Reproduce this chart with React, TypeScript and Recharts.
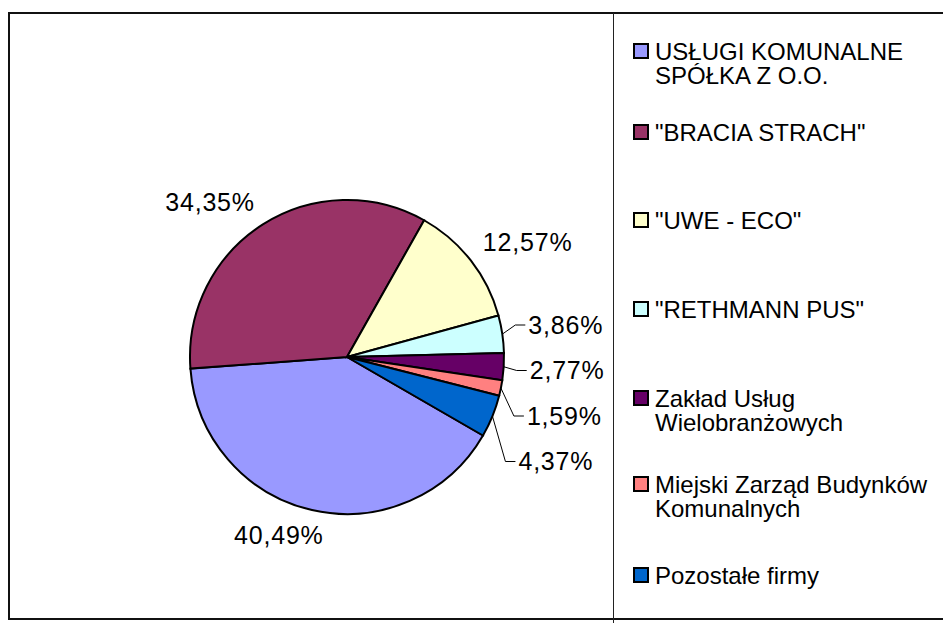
import React from 'react';
import { PieChart, Pie, Cell } from 'recharts';

const names = [
  'USŁUGI KOMUNALNE SPÓŁKA Z O.O.',
  '"BRACIA STRACH"',
  '"UWE - ECO"',
  '"RETHMANN PUS"',
  'Zakład Usług Wielobranżowych',
  'Miejski Zarząd Budynków Komunalnych',
  'Pozostałe firmy',
];
const shares = [40.49, 34.35, 12.57, 3.86, 2.77, 1.59, 4.37];
const colors = ['#9999FF', '#993366', '#FFFFCC', '#CCFFFF', '#660066', '#FF8080', '#0066CC'];

const data = names.map((name, i) => ({ name, value: shares[i] }));

// layout
const W = 943;
const H = 623;
const CX = 347;
const CY = 357;
const R = 157;
const FONT = '"Liberation Sans", Arial, Helvetica, sans-serif';
const LABEL_SIZE = 25;
const LEGEND_SIZE = 24;
const LEGEND_LINE = 24.3;
const legendTops = [39.5, 120.5, 208.5, 297.5, 386.5, 472.5, 563.5];
const RAD = Math.PI / 180;

const fmt = (v: number) => v.toFixed(2).replace('.', ',') + '%';
const clamp = (v: number) => Math.max(-1, Math.min(1, v));

function renderLabel(props: any) {
  const { cx, cy, midAngle, outerRadius, value, index } = props;
  const ux = Math.cos(-midAngle * RAD);
  const uy = Math.sin(-midAngle * RAD);
  const txt = fmt(value);
  if (value >= 5) {
    const dist = outerRadius + 16;
    const px = cx + dist * ux;
    const py = cy + dist * uy;
    const w = txt.length * LABEL_SIZE * 0.59;
    const bx = px + clamp(3 * ux) * (w / 2);
    const by = py + clamp(3 * uy) * 9;
    return (
      <text
        key={`lbl-${index}`}
        x={bx}
        y={by + 0.358 * LABEL_SIZE}
        textAnchor="middle"
        fontFamily={FONT}
        fontSize={LABEL_SIZE}
        letterSpacing={0.8}
        fill="#000"
      >
        {txt}
      </text>
    );
  }
  let k = 0;
  for (let i = 0; i < index; i++) if (shares[i] < 5) k++;
  const ex = cx + outerRadius * ux;
  const ey = cy + outerRadius * uy;
  const ly = cy - 32 + 45.5 * k;
  const tx = ex + 26;
  return (
    <g key={`lbl-${index}`}>
      <polyline
        points={`${ex},${ey} ${ex + 13},${ly} ${tx - 3},${ly}`}
        fill="none"
        stroke="#000"
        strokeWidth={1}
      />
      <text
        x={tx}
        y={ly + 0.358 * LABEL_SIZE}
        textAnchor="start"
        fontFamily={FONT}
        fontSize={LABEL_SIZE}
        letterSpacing={0.8}
        fill="#000"
      >
        {txt}
      </text>
    </g>
  );
}

export default function App() {
  return (
    <div
      style={{
        position: 'fixed',
        left: 0,
        top: 0,
        width: W,
        height: H,
        overflow: 'hidden',
        background: '#fff',
        fontFamily: FONT,
      }}
    >
      {/* outer frame */}
      <div
        style={{
          position: 'absolute',
          left: 8,
          top: 12,
          width: 960,
          height: 608,
          border: '2px solid #111',
          boxSizing: 'border-box',
        }}
      />
      {/* divider */}
      <div
        style={{
          position: 'absolute',
          left: 613,
          top: 13,
          width: 1,
          height: H - 13,
          background: '#222',
        }}
      />
      <div style={{ position: 'absolute', left: 0, top: 0 }}>
        <PieChart width={W} height={H} margin={{ top: 0, right: 0, bottom: 0, left: 0 }}>
          <Pie
            data={data}
            dataKey="value"
            nameKey="name"
            cx={CX}
            cy={CY}
            outerRadius={R}
            startAngle={-30}
            endAngle={-390}
            label={renderLabel}
            labelLine={false}
            isAnimationActive={false}
          >
            {data.map((d, i) => (
              <Cell key={d.name} fill={colors[i]} stroke="#000" strokeWidth={2} />
            ))}
          </Pie>
        </PieChart>
      </div>
      {/* legend */}
      {names.map((n, i) => (
        <div
          key={n}
          style={{
            position: 'absolute',
            left: 633,
            top: legendTops[i],
            display: 'flex',
            alignItems: 'flex-start',
          }}
        >
          <div
            style={{
              width: 16,
              height: 16,
              marginTop: 3.5,
              boxSizing: 'border-box',
              border: '2px solid #000',
              background: colors[i],
              flex: '0 0 auto',
            }}
          />
          <div
            style={{
              marginLeft: 6,
              width: 282,
              fontSize: LEGEND_SIZE,
              lineHeight: `${LEGEND_LINE}px`,
              color: '#000',
            }}
          >
            {n}
          </div>
        </div>
      ))}
    </div>
  );
}
